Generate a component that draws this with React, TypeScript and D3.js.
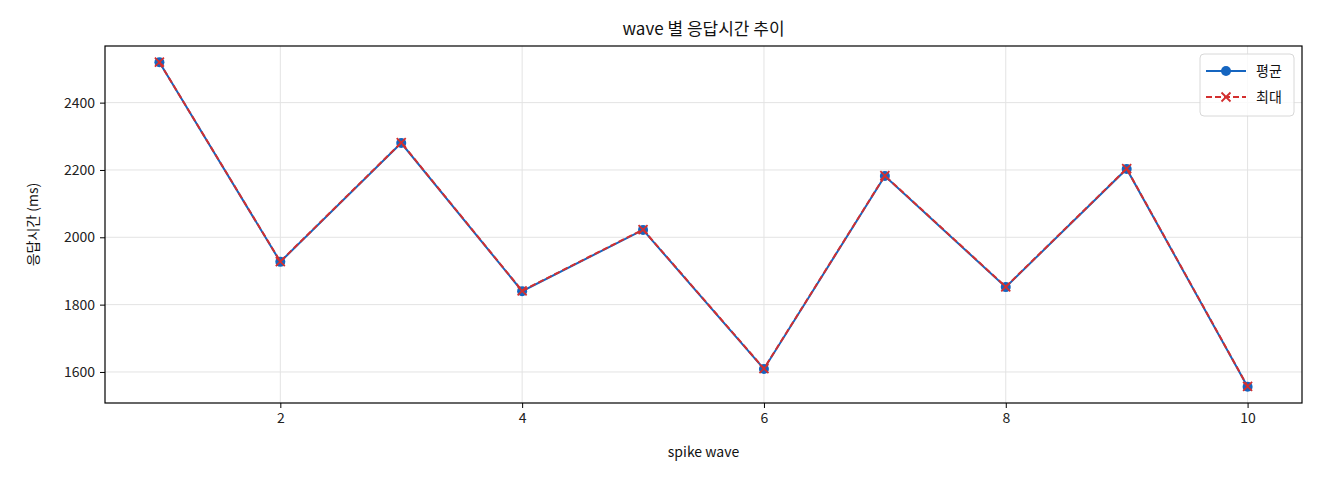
import { useRef, useEffect } from "react";
import * as d3 from "d3";

const waves = [1, 2, 3, 4, 5, 6, 7, 8, 9, 10];
const avgMs = [2520, 1927, 2280, 1840, 2022, 1609, 2182, 1852, 2203, 1556];
const maxMs = [2520, 1928, 2281, 1841, 2023, 1610, 2183, 1853, 2204, 1557];
const xTicks = [2, 4, 6, 8, 10];
const yTicks = [1600, 1800, 2000, 2200, 2400];

const BLUE = "#1565c0";
const RED = "#d32f2f";
const FONT = "'Noto Sans CJK KR', 'DejaVu Sans', sans-serif";

function App() {
  const ref = useRef<SVGSVGElement | null>(null);
  const width = 1320;
  const height = 480;

  useEffect(() => {
    if (!ref.current) return;
    const margin = { top: 46, right: 18, bottom: 77, left: 105 };
    const innerWidth = width - margin.left - margin.right;
    const innerHeight = height - margin.top - margin.bottom;

    const svg = d3.select(ref.current).html("");
    svg.append("rect").attr("width", width).attr("height", height).attr("fill", "#fff");
    const g = svg.append("g").attr("transform", `translate(${margin.left},${margin.top})`);

    const x = d3.scaleLinear().domain([0.55, 10.45]).range([0, innerWidth]);
    const all = avgMs.concat(maxMs);
    const lo = d3.min(all) as number;
    const hi = d3.max(all) as number;
    const pad = (hi - lo) * 0.05;
    const y = d3.scaleLinear().domain([lo - pad, hi + pad]).range([innerHeight, 0]);

    // grid
    g.append("g")
      .selectAll("line")
      .data(xTicks)
      .enter()
      .append("line")
      .attr("x1", (d) => x(d))
      .attr("x2", (d) => x(d))
      .attr("y1", 0)
      .attr("y2", innerHeight)
      .attr("stroke", "#e3e3e3")
      .attr("stroke-width", 1);
    g.append("g")
      .selectAll("line")
      .data(yTicks)
      .enter()
      .append("line")
      .attr("x1", 0)
      .attr("x2", innerWidth)
      .attr("y1", (d) => y(d))
      .attr("y2", (d) => y(d))
      .attr("stroke", "#e3e3e3")
      .attr("stroke-width", 1);

    // axes
    const xAxis = g
      .append("g")
      .attr("transform", `translate(0,${innerHeight})`)
      .call(d3.axisBottom(x).tickValues(xTicks).tickSize(5).tickPadding(5).tickFormat(d3.format("d")));
    const yAxis = g
      .append("g")
      .call(d3.axisLeft(y).tickValues(yTicks).tickSize(5).tickPadding(5).tickFormat(d3.format("d")));
    [xAxis, yAxis].forEach((a) => {
      a.select(".domain").remove();
      a.selectAll("line").attr("stroke", "#000");
      a.selectAll("text").attr("font-family", FONT).attr("font-size", 14).attr("fill", "#222");
    });

    g.append("rect")
      .attr("width", innerWidth)
      .attr("height", innerHeight)
      .attr("fill", "none")
      .attr("stroke", "#000")
      .attr("stroke-width", 1.2);

    const line = d3
      .line<number>()
      .x((d, i) => x(waves[i]))
      .y((d) => y(d));

    // average series
    g.append("path")
      .datum(avgMs)
      .attr("fill", "none")
      .attr("stroke", BLUE)
      .attr("stroke-width", 2)
      .attr("d", line);
    g.append("g")
      .selectAll("circle")
      .data(avgMs)
      .enter()
      .append("circle")
      .attr("cx", (d, i) => x(waves[i]))
      .attr("cy", (d) => y(d))
      .attr("r", 5)
      .attr("fill", BLUE);

    // max series
    g.append("path")
      .datum(maxMs)
      .attr("fill", "none")
      .attr("stroke", RED)
      .attr("stroke-width", 2)
      .attr("stroke-dasharray", "6,3")
      .attr("d", line);
    const cross = (cx: number, cy: number, s: number) =>
      `M${cx - s},${cy - s}L${cx + s},${cy + s}M${cx - s},${cy + s}L${cx + s},${cy - s}`;
    g.append("g")
      .selectAll("path")
      .data(maxMs)
      .enter()
      .append("path")
      .attr("d", (d, i) => cross(x(waves[i]), y(d), 4.5))
      .attr("stroke", RED)
      .attr("stroke-width", 1.8)
      .attr("fill", "none");

    // title and labels
    svg.append("text")
      .attr("x", margin.left + innerWidth / 2)
      .attr("y", 35)
      .attr("text-anchor", "middle")
      .attr("font-family", FONT)
      .attr("font-size", 17)
      .attr("fill", "#111")
      .text("wave 별 응답시간 추이");
    svg.append("text")
      .attr("x", margin.left + innerWidth / 2)
      .attr("y", 457)
      .attr("text-anchor", "middle")
      .attr("font-family", FONT)
      .attr("font-size", 14)
      .attr("fill", "#111")
      .text("spike wave");
    svg.append("text")
      .attr("transform", `translate(38,${margin.top + innerHeight / 2}) rotate(-90)`)
      .attr("text-anchor", "middle")
      .attr("font-family", FONT)
      .attr("font-size", 14)
      .attr("fill", "#111")
      .text("응답시간 (ms)");

    // legend
    const lg = g.append("g").attr("transform", `translate(${innerWidth - 102},8)`);
    lg.append("rect")
      .attr("width", 94)
      .attr("height", 62)
      .attr("rx", 4)
      .attr("fill", "#fff")
      .attr("fill-opacity", 0.8)
      .attr("stroke", "#d8d8d8");
    const items = [
      { label: "평균", color: BLUE, dash: null as string | null, marker: "circle" },
      { label: "최대", color: RED, dash: "6,3", marker: "cross" },
    ];
    items.forEach((it, i) => {
      const cy = 17 + i * 26;
      lg.append("line")
        .attr("x1", 6)
        .attr("x2", 46)
        .attr("y1", cy)
        .attr("y2", cy)
        .attr("stroke", it.color)
        .attr("stroke-width", 2)
        .attr("stroke-dasharray", it.dash);
      if (it.marker === "circle") {
        lg.append("circle").attr("cx", 26).attr("cy", cy).attr("r", 5).attr("fill", it.color);
      } else {
        lg.append("path")
          .attr("d", cross(26, cy, 4.5))
          .attr("stroke", it.color)
          .attr("stroke-width", 1.8);
      }
      lg.append("text")
        .attr("x", 56)
        .attr("y", cy)
        .attr("dy", "0.35em")
        .attr("font-family", FONT)
        .attr("font-size", 14)
        .attr("fill", "#111")
        .text(it.label);
    });
  }, []);

  return <svg ref={ref} width={width} height={height} style={{ display: "block", margin: -8 }}></svg>;
}

export default App;
